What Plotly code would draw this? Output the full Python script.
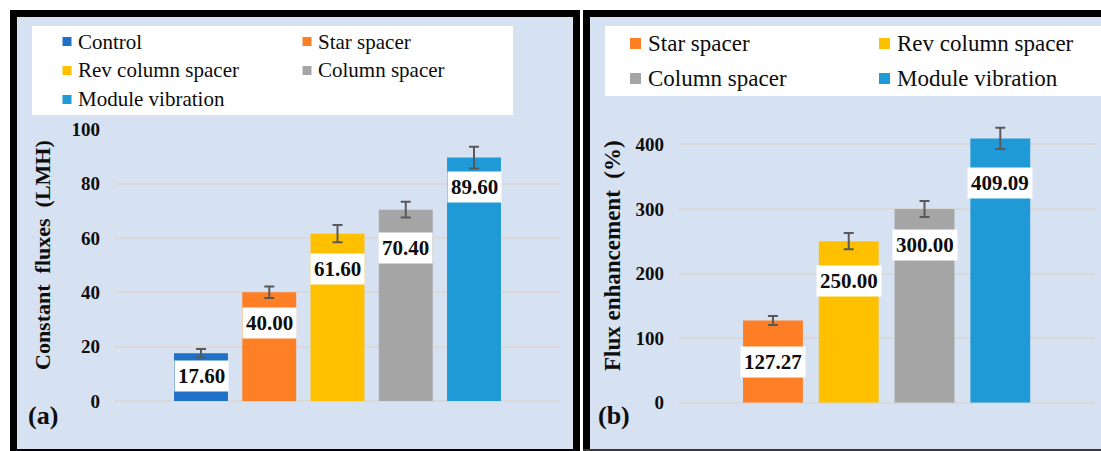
import plotly.graph_objects as go

# ---------------- data ----------------
series_a = ["Control", "Star spacer", "Rev column spacer", "Column spacer", "Module vibration"]
flux_a = [17.60, 40.00, 61.60, 70.40, 89.60]
err_a = [1.5, 2.1, 3.2, 2.9, 4.0]
ticks_a = [0, 20, 40, 60, 80, 100]

series_b = ["Star spacer", "Rev column spacer", "Column spacer", "Module vibration"]
enh_b = [127.27, 250.00, 300.00, 409.09]
err_b = [6.8, 12.5, 12.4, 16.5]
ticks_b = [0, 100, 200, 300, 400]

# ---------------- style ----------------
W, H = 1101, 451
COLORS = {
    "Control": "#1F71C7",
    "Star spacer": "#FF7F27",
    "Rev column spacer": "#FFC000",
    "Column spacer": "#A5A5A5",
    "Module vibration": "#1F9AD6",
}
PANEL = "#D6E2F1"
GRID = "#D9D9D9"
SERIF = "Liberation Serif"
TXT = "#0D0D0D"

# label offsets (px below bar top) for the boxed value labels
lab_off_a = [23, 31, 35, 38, 29.5]
lab_off_b = [41.5, 40, 36, 44.5]


def px(x):
    return x / W


def py(y):
    return 1 - y / H


fig = go.Figure()

fig.add_trace(go.Bar(
    x=series_a, y=flux_a, xaxis="x", yaxis="y", width=0.79,
    marker=dict(color=[COLORS[s] for s in series_a], line=dict(width=0)),
    error_y=dict(type="data", array=err_a, color="#595959", thickness=2, width=5),
    showlegend=False, hoverinfo="x+y",
))
fig.add_trace(go.Bar(
    x=series_b, y=enh_b, xaxis="x2", yaxis="y2", width=0.79,
    marker=dict(color=[COLORS[s] for s in series_b], line=dict(width=0)),
    error_y=dict(type="data", array=err_b, color="#595959", thickness=2, width=5),
    showlegend=False, hoverinfo="x+y",
))

shapes = []
annotations = []


def rect(x0, y0, x1, y1, color, layer="below"):
    shapes.append(dict(type="rect", xref="paper", yref="paper",
                       x0=px(x0), x1=px(x1), y0=py(y1), y1=py(y0),
                       fillcolor=color, line=dict(width=0), layer=layer))


# panel backgrounds
rect(10, 10, 580, 451, PANEL)
rect(583, 10, 1101, 451, PANEL)
# black frames (drawn as filled bands, kept inside the page)
rect(10, 10, 580, 17, "black")      # top a
rect(10, 10, 17, 451, "black")      # left a
rect(573, 10, 580, 451, "black")    # right a
rect(10, 449, 580, 451, "black")    # bottom a
rect(583, 10, 1101, 17, "black")    # top b
rect(583, 10, 590, 451, "black")    # left b
rect(583, 449, 1101, 451, "#3A3A3A")  # bottom b
# white legend boxes
rect(32, 26, 513, 115, "white")
rect(605, 26, 1101, 96, "white")


def legend(names, col_marker, col_text, rows, msize, fsize):
    for i, name in enumerate(names):
        c = i % 2
        r = i // 2
        yc = rows[r]
        mx = col_marker[c]
        rect(mx, yc - msize / 2, mx + msize, yc + msize / 2, COLORS[name], layer="above")
        annotations.append(dict(xref="paper", yref="paper", x=px(col_text[c]), y=py(yc),
                                xanchor="left", yanchor="middle", showarrow=False,
                                text=name, font=dict(family=SERIF, size=fsize, color=TXT)))


legend(series_a, [62.5, 302.5], [76, 316], [41.5, 70.5, 99.5], 9, 21)
legend(series_b, [630, 879], [646, 895], [43.5, 78.5], 11, 23)

# value labels in white boxes
for name, v, off in zip(series_a, flux_a, lab_off_a):
    annotations.append(dict(xref="x", yref="y", x=name, y=v, yshift=-off,
                            xanchor="center", yanchor="middle", showarrow=False,
                            text="<b>%.2f</b>" % v, bgcolor="white", borderpad=3,
                            font=dict(family=SERIF, size=21, color=TXT)))
for name, v, off in zip(series_b, enh_b, lab_off_b):
    annotations.append(dict(xref="x2", yref="y2", x=name, y=v, yshift=-off,
                            xanchor="center", yanchor="middle", showarrow=False,
                            text="<b>%.2f</b>" % v, bgcolor="white", borderpad=3,
                            font=dict(family=SERIF, size=21, color=TXT)))

# axis titles
annotations.append(dict(xref="paper", yref="paper", x=px(42), y=py(255), textangle=-90,
                        xanchor="center", yanchor="middle", showarrow=False,
                        text="<b>Constant  fluxes  (LMH)</b>",
                        font=dict(family=SERIF, size=22, color=TXT)))
annotations.append(dict(xref="paper", yref="paper", x=px(612), y=py(256), textangle=-90,
                        xanchor="center", yanchor="middle", showarrow=False,
                        text="<b>Flux enhancement  (%)</b>",
                        font=dict(family=SERIF, size=23, color=TXT)))
# panel letters
annotations.append(dict(xref="paper", yref="paper", x=px(43), y=py(415),
                        xanchor="center", yanchor="middle", showarrow=False,
                        text="<b>(a)</b>", font=dict(family=SERIF, size=26, color=TXT)))
annotations.append(dict(xref="paper", yref="paper", x=px(614), y=py(415),
                        xanchor="center", yanchor="middle", showarrow=False,
                        text="<b>(b)</b>", font=dict(family=SERIF, size=26, color=TXT)))

tickfont = dict(family=SERIF, size=19, color=TXT)

fig.update_layout(
    width=W, height=H,
    margin=dict(l=0, r=0, t=0, b=0),
    paper_bgcolor="white",
    plot_bgcolor="rgba(0,0,0,0)",
    barmode="overlay",
    showlegend=False,
    shapes=shapes,
    annotations=annotations,
    xaxis=dict(domain=[px(115), px(560)], anchor="y", type="category",
               categoryorder="array", categoryarray=series_a,
               range=[-1.26, 5.26], showticklabels=False, showgrid=False,
               zeroline=False, showline=False, ticks="", automargin=False),
    yaxis=dict(domain=[py(401), py(129.3)], anchor="x", range=[0, 100],
               tickvals=ticks_a, ticktext=["<b>%d</b>" % t for t in ticks_a],
               tickfont=tickfont, showgrid=True, gridcolor=GRID, gridwidth=2,
               zeroline=True, zerolinecolor=GRID, zerolinewidth=2,
               showline=False, ticks="", ticklabelstandoff=14, automargin=False),
    xaxis2=dict(domain=[px(679), px(1095)], anchor="y2", type="category",
                categoryorder="array", categoryarray=series_b,
                range=[-1.24, 4.25], showticklabels=False, showgrid=False,
                zeroline=False, showline=False, ticks="", automargin=False),
    yaxis2=dict(domain=[py(402.7), py(112)], anchor="x2", range=[0, 450],
                tickvals=ticks_b, ticktext=["<b>%d</b>" % t for t in ticks_b],
                tickfont=tickfont, showgrid=True, gridcolor=GRID, gridwidth=2,
                zeroline=True, zerolinecolor=GRID, zerolinewidth=2,
                showline=False, ticks="", ticklabelstandoff=14, automargin=False),
)

fig.write_html("out.html")
